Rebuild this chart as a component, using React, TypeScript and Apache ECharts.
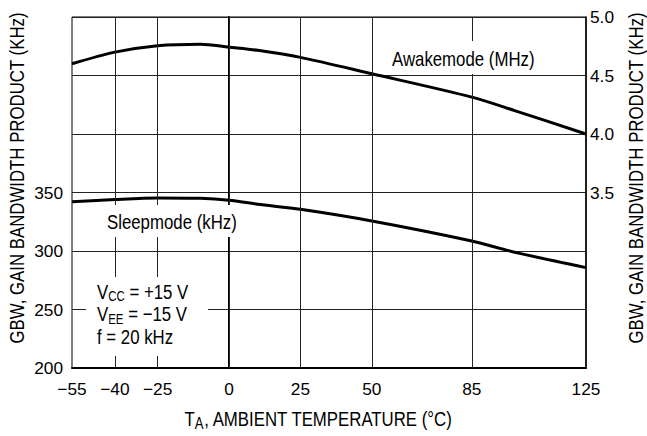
import { useEffect, useRef } from 'react';
import * as echarts from 'echarts';

const temperatures = [-55, -40, -25, -10, 0, 10, 25, 50, 85, 100, 125];
const awakeMHz = [4.6, 4.7, 4.755, 4.768, 4.742, 4.715, 4.655, 4.515, 4.315, 4.2, 4.0];
const sleepKHz = [342, 344, 345.3, 345, 343.4, 340, 335.6, 325.6, 308.5, 299, 285.8];
const xTickLabels = [-55, -40, -25, 0, 25, 50, 85, 125];
const xGridLines = [-40, -25, 0, 25, 50, 85];
const leftTickLabels = [200, 250, 300, 350];
const rightTickLabels = [3.5, 4.0, 4.5, 5.0];

function pickFont() {
  const ctx = document.createElement('canvas').getContext('2d');
  if (ctx) {
    ctx.font = '20px monospace';
    const a = ctx.measureText('GAIN BANDWIDTH').width;
    ctx.font = "20px 'Liberation Sans Narrow', monospace";
    const b = ctx.measureText('GAIN BANDWIDTH').width;
    if (Math.abs(a - b) > 0.5) return { family: "'Liberation Sans Narrow', sans-serif", k: 1 };
  }
  return { family: "'Liberation Sans', Arial, sans-serif", k: 0.82 };
}

const fmtT = (v: number) => (v < 0 ? '\u2212' + Math.abs(v) : String(v));

export default function App() {
  const ref = useRef<HTMLDivElement>(null);
  useEffect(() => {
    document.body.style.margin = '0';
    if (!ref.current) return;
    const chart = echarts.init(ref.current, undefined, { renderer: 'svg' });
    const { family, k } = pickFont();
    const axisFs = k < 1 ? 17.3 : 20.5;
    const gfs = 20.5;
    const txt = { fontFamily: family, fontSize: axisFs, color: '#000' };
    const makeRich = (subSize: number, pad: number) => ({
      n: { fontFamily: family, fontSize: gfs, fill: '#000', color: '#000' },
      s: {
        fontFamily: family,
        fontSize: subSize,
        fill: '#000',
        color: '#000',
        padding: [pad, 0, 0, 0],
      },
    });
    const gtxt = (x: number, y: number, text: string, opts?: any) => ({
      type: 'text',
      z: 101,
      x,
      y,
      scaleX: k,
      rotation: opts?.rotation || 0,
      style: {
        text,
        fontFamily: family,
        fontSize: opts?.fontSize || gfs,
        fill: '#000',
        align: opts?.align || 'left',
        textAlign: opts?.align || 'left',
        verticalAlign: 'middle',
        textVerticalAlign: 'middle',
        ...(opts?.rich ? { rich: opts.rich } : {}),
      },
    });

    chart.setOption({
      animation: false,
      grid: {
        left: 72,
        right: 61,
        top: 17,
        bottom: 68,
        show: true,
        borderColor: '#000',
        borderWidth: 1,
        backgroundColor: 'transparent',
      },
      xAxis: {
        type: 'value',
        min: -55,
        max: 125,
        interval: 5,
        axisLine: { show: true, onZero: false, lineStyle: { color: '#000', width: 2 } },
        axisTick: { show: false },
        splitLine: { show: false },
        axisLabel: {
          ...txt,
          margin: 12,
          formatter: (v: number) => (xTickLabels.includes(Math.round(v)) ? fmtT(Math.round(v)) : ''),
        },
      },
      yAxis: [
        {
          type: 'value',
          min: 200,
          max: 500,
          interval: 50,
          position: 'left',
          axisLine: { show: true, lineStyle: { color: '#000', width: 2 } },
          axisTick: { show: false },
          splitLine: { show: true, lineStyle: { color: '#222', width: 1 } },
          axisLabel: {
            ...txt,
            margin: 9,
            formatter: (v: number) => (leftTickLabels.includes(Math.round(v)) ? String(Math.round(v)) : ''),
          },
        },
        {
          type: 'value',
          min: 2,
          max: 5,
          interval: 0.5,
          position: 'right',
          axisLine: { show: true, lineStyle: { color: '#000', width: 1.5 } },
          axisTick: { show: false },
          splitLine: { show: false },
          axisLabel: {
            ...txt,
            margin: 4,
            formatter: (v: number) =>
              rightTickLabels.some((r) => Math.abs(r - v) < 1e-6) ? v.toFixed(1) : '',
          },
        },
      ],
      series: [
        {
          name: 'Sleepmode (kHz)',
          type: 'line',
          yAxisIndex: 0,
          smooth: 0.3,
          symbol: 'none',
          lineStyle: { color: '#000', width: 3 },
          data: temperatures.map((t, i) => [t, sleepKHz[i]]),
          markLine: {
            silent: true,
            symbol: ['none', 'none'],
            label: { show: false },
            lineStyle: { color: '#222', width: 1, type: 'solid' },
            data: xGridLines.map((t) => ({ xAxis: t })),
          },
        },
        {
          name: 'Awakemode (MHz)',
          type: 'line',
          yAxisIndex: 1,
          smooth: 0.3,
          symbol: 'none',
          lineStyle: { color: '#000', width: 3 },
          data: temperatures.map((t, i) => [t, awakeMHz[i]]),
        },
      ],
      graphic: [
        { type: 'rect', z: 100, shape: { x: 388, y: 41, width: 156, height: 33 }, style: { fill: '#fff' } },
        gtxt(392, 59, 'Awakemode (MHz)'),
        { type: 'rect', z: 100, shape: { x: 100, y: 205, width: 146, height: 32 }, style: { fill: '#fff' } },
        gtxt(107, 222, 'Sleepmode (kHz)'),
        { type: 'rect', z: 100, shape: { x: 86, y: 277, width: 122, height: 79 }, style: { fill: '#fff' } },
        gtxt(97, 291.5, '{n|V}{s|CC}{n| = +15 V}', { rich: makeRich(14, 10) }),
        gtxt(97, 314, '{n|V}{s|EE}{n| = \u221215 V}', { rich: makeRich(14, 10) }),
        gtxt(97, 336.5, 'f = 20 kHz'),
        gtxt(318.5, 419, '{n|T}{s|A}{n|, AMBIENT TEMPERATURE (\u00B0C)}', {
          rich: makeRich(16, 9),
          align: 'center',
        }),
        gtxt(17, 178, 'GBW, GAIN BANDWIDTH PRODUCT (KHz)', {
          rotation: Math.PI / 2,
          align: 'center',
          fontSize: 20.5,
        }),
        gtxt(635.5, 178, 'GBW, GAIN BANDWIDTH PRODUCT (KHz)', {
          rotation: Math.PI / 2,
          align: 'center',
          fontSize: 20.5,
        }),
      ],
    });
    return () => chart.dispose();
  }, []);
  return <div ref={ref} style={{ width: 647, height: 436 }} />;
}
